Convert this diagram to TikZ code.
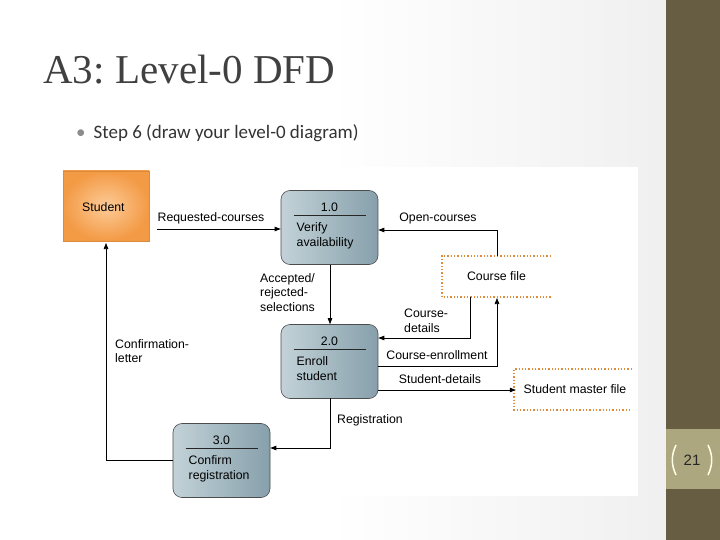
\documentclass[tikz,border=0pt]{standalone}
\usepackage{fontspec}
\setmainfont{Liberation Sans}
\newfontfamily\titlefont{Liberation Serif}
\newfontfamily\bodyfont{Carlito}
\usetikzlibrary{arrows.meta}
\definecolor{olive}{HTML}{675D43}
\definecolor{olivel}{HTML}{ADA780}
\definecolor{procA}{HTML}{C3D2D8}
\definecolor{procB}{HTML}{86A0AB}
\definecolor{orng}{HTML}{F39A45}
\definecolor{orngl}{HTML}{FDCB98}
\definecolor{dash}{HTML}{E08A3C}
\tikzset{
 proc/.style={draw=black!70, line width=0.6pt, rounded corners=9pt, minimum width=97pt, minimum height=74pt, left color=procA, right color=procB},
 store/.style={draw=none, minimum width=109pt, minimum height=41pt},
 lbl/.style={font=\fontsize{12.3}{14.5}\selectfont, align=left, inner sep=0pt},
 flow/.style={-{Triangle[length=6pt,width=4.5pt]}, line width=0.7pt},
 ds/.style={draw=dash, dotted, line width=1.3pt}
}
\begin{document}
\begin{tikzpicture}[x=1pt,y=-1pt]
\useasboundingbox (0,0) rectangle (720,540);
\fill[white] (0,0) rectangle (720,540);
\shade[left color=white, right color=black!6] (330,0) rectangle (666,540);
\fill[olive] (666,0) rectangle (720,540);
\fill[olivel] (666,429) rectangle (720,489);
\node[font=\fontsize{15}{15}\selectfont, text=black!85] (pg) at (692,460) {21};
\draw[white!90!yellow, line width=1.5pt] (676,445) to[bend right=25] (676,475);
\draw[white!90!yellow, line width=1.5pt] (708,445) to[bend left=25] (708,475);
\node[anchor=west, font=\titlefont\fontsize{41}{41}\selectfont, text=black!75, inner sep=0pt] (title) at (43,70) {A3:\hspace{-3pt} Level-0 DFD};
\node[anchor=west, font=\bodyfont\fontsize{19}{19}\selectfont, text=black!80, inner sep=0pt] (bul) at (76,133) {{\color{black!45}•}\hspace{8pt}Step 6 (draw your level-0 diagram)};
\fill[white] (62,167) rectangle (638,496);
% student
\node[draw=orng!90!black, line width=0.5pt, minimum width=86pt, minimum height=70pt, inner color=orngl, outer color=orng] (stu) at (106,206) {};
\node[lbl, anchor=west] (stut) at (82,207) {Student};
% processes
\node[proc] (p1) at (329.5,227.5) {};
\node[proc] (p2) at (329.5,361.5) {};
\node[proc] (p3) at (221.5,460.5) {};
\foreach \p/\n/\a/\b in {p1/1.0/Verify/availability, p2/2.0/Enroll/student, p3/3.0/Confirm/registration}{
 \draw[line width=1.6pt, black!85] ([xshift=-36pt,yshift=12pt]\p.center) -- ([xshift=36pt,yshift=12pt]\p.center);
 \node[lbl] at ([yshift=20pt]\p.center) {\n};
 \node[lbl, anchor=north west, text width=80pt] at ([xshift=-33pt,yshift=5pt]\p.center) {\a\\\b};
}
% stores
\node[store] (cf) at (496.5,276.5) {\fontsize{12.3}{14}\selectfont Course file};
\draw[ds] (551,256) -- (442,256) -- (442,297) -- (551,297);
\node[store, minimum width=118pt] (smf) at (575,389.5) {\fontsize{12.3}{14}\selectfont Student master file};
\draw[ds] (632,369) -- (514,369) -- (514,410) -- (632,410);
% flows
\draw[flow] (157,229) -- (p1.west |- 0,229);
\node[lbl] at (211,218) {Requested-courses};
\draw[flow] (497,256) -- (497,230) -- (p1.east |- 0,230);
\node[lbl] at (438,218) {Open-courses};
\draw[flow] (330,265) -- (p2.north -| 330,0);
\node[lbl, anchor=north west] at (260,273) {Accepted/\\rejected-\\selections};
\draw[flow] (470,297) -- (470,338) -- (p2.east |- 0,338);
\node[lbl, anchor=north west] at (404,309) {Course-\\details};
\draw[flow] (p2.east |- 0,366) -- (497,366) -- (497,298);
\node[lbl] at (437,355) {Course-enrollment};
\draw[flow] (p2.east |- 0,390) -- (smf.west |- 0,390);
\node[lbl] at (440,379) {Student-details};
\draw[flow] (330,398) -- (330,448) -- (p3.east |- 0,448);
\node[lbl] at (370,420) {Registration};
\draw[flow] (p3.west |- 0,460) -- (106,460) -- (106,243);
\node[lbl, anchor=north west] at (115,339) {Confirmation-\\letter};
\end{tikzpicture}
\end{document}
